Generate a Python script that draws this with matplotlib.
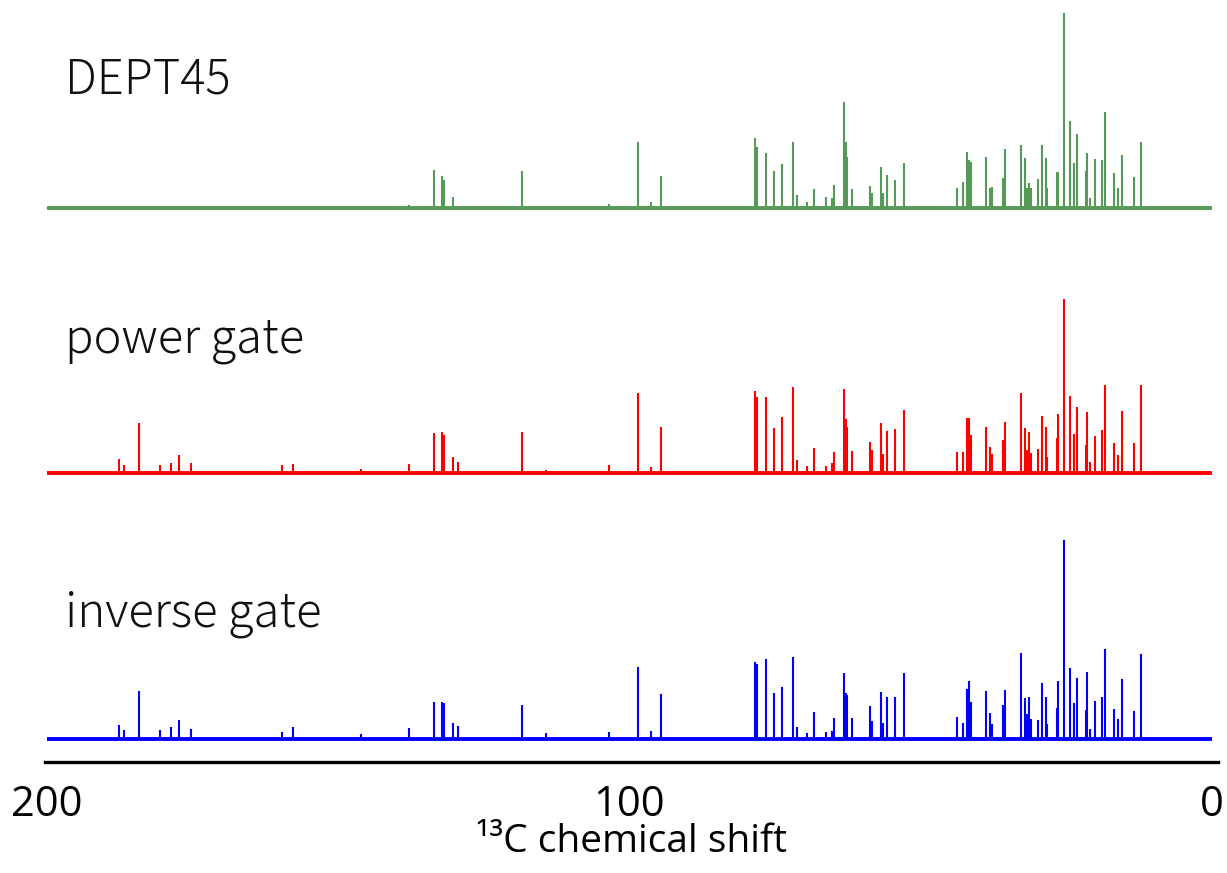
import matplotlib
matplotlib.use("Agg")
import matplotlib.pyplot as plt

# ---------------- data ----------------
spectrum_names = ["DEPT45", "power gate", "inverse gate"]
spectrum_colors = ["#559a57", "#ff0000", "#0000ff"]
x_range = [200, 0]
tick_values = [200, 100, 0]
tick_labels = ["200", "100", "0"]
x_label = "¹³C chemical shift"

# peak positions (ppm)
peak_ppm = [187.6, 186.8, 184.2, 180.6, 178.7, 177.3, 175.3, 159.7, 157.8, 146.1,
            137.9, 133.5, 132.1, 131.8, 130.3, 129.4, 118.5, 114.3, 103.5, 98.5,
            96.3, 94.6, 78.5, 78.1, 76.6, 75.2, 73.8, 71.9, 71.2, 69.5,
            68.3, 66.3, 65.2, 64.9, 63.2, 62.8, 62.7, 61.8, 58.7, 58.4,
            56.8, 56.5, 55.8, 54.4, 52.9, 43.8, 42.8, 42.1, 41.7, 41.4,
            38.8, 38.1, 37.8, 35.9, 35.5, 32.8, 32.1, 31.8, 31.4, 31.1,
            29.9, 29.2, 28.5, 28.3, 26.6, 26.4, 25.4, 24.4, 23.7, 23.2,
            21.6, 21.5, 20.9, 20.1, 18.9, 18.4, 16.8, 16.1, 15.5, 13.4,
            12.2]

# peak intensities (arbitrary units) for each spectrum
dept45 = [0, 0, 0, 0, 0, 0, 0, 0, 0, 0,
          3, 38, 32, 28, 11, 0, 37, 0, 4, 66,
          6, 32, 70, 61, 55, 37, 44, 66, 13, 6,
          19, 11, 10, 23, 106, 66, 51, 19, 22, 15,
          41, 15, 33, 28, 45, 20, 26, 56, 48, 46,
          51, 20, 21, 30, 59, 63, 50, 20, 25, 20,
          29, 63, 50, 20, 36, 36, 195, 87, 45, 74,
          37, 55, 10, 49, 48, 96, 35, 20, 53, 31,
          66]
power_gate = [14, 8, 50, 8, 10, 18, 10, 8, 9, 4,
              9, 40, 41, 38, 16, 11, 41, 3, 8, 80,
              6, 46, 82, 76, 76, 45, 56, 86, 13, 7,
              25, 7, 10, 21, 84, 54, 46, 22, 31, 23,
              50, 19, 42, 44, 63, 21, 21, 55, 55, 38,
              46, 26, 19, 33, 51, 80, 45, 23, 41, 20,
              24, 57, 46, 16, 35, 59, 174, 77, 39, 66,
              28, 61, 11, 37, 43, 88, 30, 18, 62, 30,
              88]
inverse_gate = [14, 9, 48, 9, 12, 19, 10, 7, 12, 5,
                11, 37, 37, 36, 16, 13, 34, 6, 7, 72,
                8, 45, 77, 75, 80, 46, 52, 82, 12, 6,
                27, 7, 8, 21, 66, 46, 44, 21, 33, 18,
                47, 16, 42, 42, 66, 22, 16, 50, 58, 37,
                48, 26, 15, 34, 49, 86, 41, 25, 42, 20,
                19, 56, 42, 15, 31, 58, 199, 71, 36, 61,
                29, 67, 10, 38, 42, 90, 30, 20, 60, 28,
                85]
intensities = [dept45, power_gate, inverse_gate]

# ---------------- layout ----------------
W, H, DPI = 1227, 873, 100
fig = plt.figure(figsize=(W / DPI, H / DPI), dpi=DPI)
ax_left, ax_right = 45 / W, 1218 / W
ax_bottom = (H - 762) / H
ax = fig.add_axes([ax_left, ax_bottom, ax_right - ax_left, 1 - ax_bottom])

offsets = [554, 289, 23]            # vertical offset of each trace
label_y = [669, 410, 136]           # baseline of each trace's name
label_x = 196.9

for name, color, vals, off, ly in zip(spectrum_names, spectrum_colors,
                                      intensities, offsets, label_y):
    ax.hlines(off, x_range[0], x_range[1], color=color, lw=2.8)
    ax.vlines(peak_ppm, off, [off + v for v in vals], color=color, lw=1.5)
    ax.text(label_x, ly, name, fontsize=34, va="baseline", ha="left",
            family=["Noto Sans CJK JP", "DejaVu Sans"], fontweight="light",
            color="#111111")

ax.set_xlim(200.3, -1.0)
ax.set_ylim(0, 762)
for s in ["top", "left", "right"]:
    ax.spines[s].set_visible(False)
ax.spines["bottom"].set_linewidth(2.4)
ax.spines["bottom"].set_color("black")
ax.set_yticks([])
ax.set_xticks(tick_values)
ax.set_xticklabels(tick_labels, fontsize=30, family="Open Sans")
ax.tick_params(axis="x", length=0, pad=16)
ax.set_xlabel(x_label, fontsize=28, family="Open Sans", labelpad=-2)
ax.patch.set_alpha(0)

fig.savefig("out.png", dpi=DPI)
